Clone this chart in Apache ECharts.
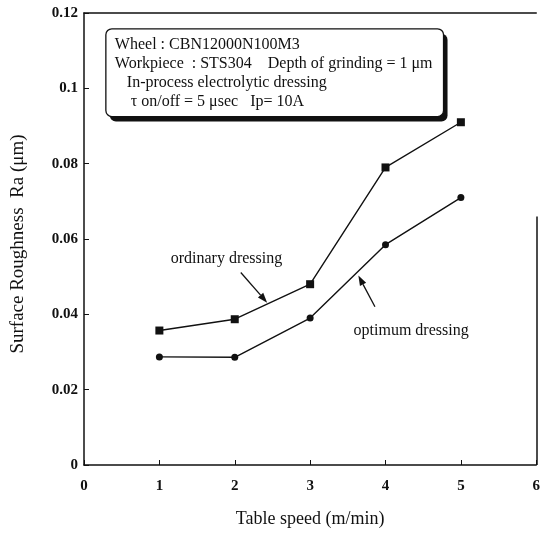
<!DOCTYPE html>
<html>
<head>
<meta charset="utf-8">
<script src="https://cdn.jsdelivr.net/npm/echarts@6/dist/echarts.min.js"></script>
<style>
	html, body { margin: 0; padding: 0; background: #fff; }
	#chart { width: 543px; height: 533px; }
</style>
</head>
<body>
<div id="chart"></div>
<script>
var speeds = [1, 2, 3, 4, 5];
var ordinaryRa = [0.0357, 0.0387, 0.0480, 0.0790, 0.0910];
var optimumRa = [0.0287, 0.0286, 0.0390, 0.0585, 0.0710];
var xTicks = [0, 1, 2, 3, 4, 5, 6];
var yTicks = [0, 0.02, 0.04, 0.06, 0.08, 0.1, 0.12];
var boxLines = [
	'Wheel : CBN12000N100M3',
	'Workpiece  : STS304    Depth of grinding = 1 \u03bcm',
	'   In-process electrolytic dressing',
	'    \u03c4 on/off = 5 \u03bcsec   Ip= 10A'
];

var FONT = '"Liberation Serif", "DejaVu Serif", serif';
var INK = '#111';

function pairs(xs, ys) {
	return xs.map(function(x, i) { return [x, ys[i]]; });
}

var chart = echarts.init(document.getElementById('chart'));

chart.setOption({
	backgroundColor: '#fff',
	animation: false,
	grid: { left: 84, right: 6, top: 13, bottom: 67 },
	xAxis: [{
		type: 'value', min: 0, max: 6, interval: 1,
		name: 'Table speed (m/min)', nameLocation: 'middle', nameGap: 45,
		nameTextStyle: { fontFamily: FONT, fontSize: 18, color: INK },
		axisLine: { lineStyle: { color: INK, width: 1.5 } },
		axisTick: { inside: true, length: 5, lineStyle: { color: INK } },
		axisLabel: { fontFamily: FONT, fontSize: 15, fontWeight: 'bold', color: INK, margin: 14,
			formatter: function(v) { return xTicks.indexOf(v) >= 0 ? String(v) : ''; } },
		splitLine: { show: false }
	}, {
		type: 'value', min: 0, max: 6, position: 'top',
		axisLine: { show: true, lineStyle: { color: INK, width: 1.5 } },
		axisTick: { show: false }, axisLabel: { show: false }, splitLine: { show: false }
	}],
	yAxis: {
		type: 'value', min: 0, max: 0.12, interval: 0.02,
		name: 'Surface Roughness  Ra (\u03bcm)', nameLocation: 'middle', nameGap: 56,
		nameTextStyle: { fontFamily: FONT, fontSize: 19, color: INK, padding: [0, 10, 0, 0] },
		axisLine: { show: true, lineStyle: { color: INK, width: 1.5 } },
		axisTick: { inside: true, length: 5, lineStyle: { color: INK } },
		axisLabel: { fontFamily: FONT, fontSize: 15, fontWeight: 'bold', color: INK, margin: 6,
			formatter: function(v) {
				var t = yTicks.filter(function(y) { return Math.abs(y - v) < 1e-9; });
				return t.length ? String(+v.toFixed(2)) : '';
			} },
		splitLine: { show: false }
	},
	series: [{
		name: 'ordinary dressing',
		type: 'line',
		data: pairs(speeds, ordinaryRa),
		symbol: 'rect', symbolSize: 8,
		lineStyle: { color: INK, width: 1.4 },
		itemStyle: { color: INK },
		markLine: {
			silent: true, symbol: ['none', 'none'], label: { show: false },
			lineStyle: { color: INK, width: 1.5, type: 'solid' },
			data: [[{ coord: [6, 0] }, { coord: [6, 0.066] }]]
		}
	}, {
		name: 'optimum dressing',
		type: 'line',
		data: pairs(speeds, optimumRa),
		symbol: 'circle', symbolSize: 7,
		lineStyle: { color: INK, width: 1.4 },
		itemStyle: { color: INK }
	}]
});

// annotations placed in data coordinates
var notes = [
	{ text: 'ordinary dressing', at: [1.89, 0.0548] },
	{ text: 'optimum dressing', at: [4.34, 0.0355] }
];
var arrows = [
	{ from: [2.08, 0.0511], to: [2.43, 0.0431] },
	{ from: [3.86, 0.0420], to: [3.64, 0.0503] }
];

function px(p) { return chart.convertToPixel({ gridIndex: 0 }, p); }

var elements = [];
notes.forEach(function(n) {
	var p = px(n.at);
	elements.push({
		type: 'text', x: p[0], y: p[1],
		style: { text: n.text, font: '16px ' + FONT, fill: INK, align: 'center', verticalAlign: 'middle' }
	});
});
arrows.forEach(function(a) {
	var s = px(a.from), e = px(a.to);
	var ang = Math.atan2(e[1] - s[1], e[0] - s[0]);
	var L = 10, W = 3.5;
	var bx = e[0] - L * Math.cos(ang), by = e[1] - L * Math.sin(ang);
	elements.push({
		type: 'line', shape: { x1: s[0], y1: s[1], x2: bx, y2: by },
		style: { stroke: INK, lineWidth: 1.3 }
	});
	elements.push({
		type: 'polygon',
		shape: { points: [
			[e[0], e[1]],
			[bx + W * Math.sin(ang), by - W * Math.cos(ang)],
			[bx - W * Math.sin(ang), by + W * Math.cos(ang)]
		] },
		style: { fill: INK }
	});
});

// condition box with drop shadow
var boxTL = px([0.29, 0.1158]);
var boxBR = px([4.77, 0.0925]);
var bw = boxBR[0] - boxTL[0], bh = boxBR[1] - boxTL[1];
elements.push({
	type: 'rect', shape: { x: boxTL[0] + 4, y: boxTL[1] + 5, width: bw, height: bh, r: 6 },
	style: { fill: INK }
});
elements.push({
	type: 'rect', shape: { x: boxTL[0], y: boxTL[1], width: bw, height: bh, r: 6 },
	style: { fill: '#fff', stroke: INK, lineWidth: 1.3 }
});
boxLines.forEach(function(line, i) {
	elements.push({
		type: 'text', x: boxTL[0] + 9, y: boxTL[1] + 16 + i * 19,
		style: { text: line, font: '16px ' + FONT, fill: INK, verticalAlign: 'middle' }
	});
});

chart.setOption({ graphic: { elements: elements } });
</script>
</body>
</html>
